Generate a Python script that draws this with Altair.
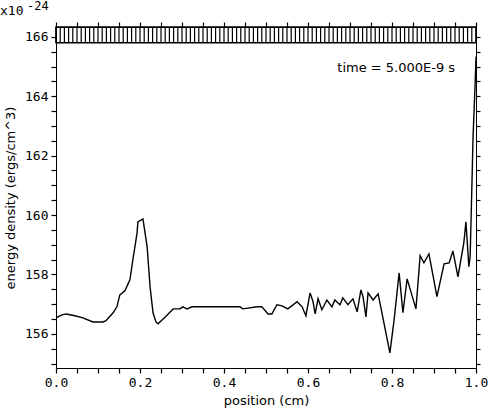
import altair as alt
import pandas as pd

# curve
pos = [0.000, 0.014, 0.024, 0.045, 0.064, 0.088, 0.112, 0.119, 0.136, 0.145,
       0.152, 0.164, 0.176, 0.183, 0.193, 0.195, 0.207, 0.217, 0.224, 0.231,
       0.238, 0.243, 0.260, 0.279, 0.295, 0.302, 0.312, 0.324, 0.380, 0.438,
       0.445, 0.479, 0.490, 0.505, 0.514, 0.526, 0.538, 0.552, 0.574, 0.586,
       0.595, 0.605, 0.612, 0.617, 0.624, 0.633, 0.645, 0.657, 0.664, 0.676,
       0.683, 0.695, 0.707, 0.717, 0.726, 0.731, 0.738, 0.743, 0.755, 0.767,
       0.795, 0.805, 0.817, 0.826, 0.836, 0.857, 0.867, 0.876, 0.888, 0.907,
       0.924, 0.936, 0.945, 0.957, 0.971, 0.976, 0.983, 0.986, 0.990, 0.993,
       0.998, 1.000]
energy = [156.54, 156.64, 156.67, 156.61, 156.54, 156.40, 156.40, 156.44, 156.71, 156.91,
          157.31, 157.45, 157.82, 158.49, 159.40, 159.77, 159.87, 158.93, 157.58, 156.71,
          156.40, 156.34, 156.57, 156.84, 156.84, 156.91, 156.84, 156.91, 156.91, 156.91,
          156.84, 156.91, 156.91, 156.67, 156.67, 156.98, 156.94, 156.84, 157.08, 156.91,
          156.61, 157.38, 157.08, 156.67, 157.18, 156.81, 157.14, 156.91, 157.14, 156.98,
          157.21, 156.98, 157.18, 156.74, 157.48, 157.25, 156.57, 157.38, 157.14, 157.35,
          155.36, 156.47, 158.05, 156.71, 157.85, 156.84, 158.63, 158.39, 158.69, 157.25,
          158.36, 158.39, 158.79, 157.92, 159.06, 159.77, 158.26, 158.59, 160.85, 162.63,
          164.45, 165.33]

# off-scale band along the top edge
band_lo = [165.80]
band_hi = [166.33]
band_x = [0.00, 0.01, 0.02, 0.03, 0.04, 0.05, 0.06, 0.07, 0.08, 0.09,
          0.10, 0.11, 0.12, 0.13, 0.14, 0.15, 0.16, 0.17, 0.18, 0.19,
          0.20, 0.21, 0.22, 0.23, 0.24, 0.25, 0.26, 0.27, 0.28, 0.29,
          0.30, 0.31, 0.32, 0.33, 0.34, 0.35, 0.36, 0.37, 0.38, 0.39,
          0.40, 0.41, 0.42, 0.43, 0.44, 0.45, 0.46, 0.47, 0.48, 0.49,
          0.50, 0.51, 0.52, 0.53, 0.54, 0.55, 0.56, 0.57, 0.58, 0.59,
          0.60, 0.61, 0.62, 0.63, 0.64, 0.65, 0.66, 0.67, 0.68, 0.69,
          0.70, 0.71, 0.72, 0.73, 0.74, 0.75, 0.76, 0.77, 0.78, 0.79,
          0.80, 0.81, 0.82, 0.83, 0.84, 0.85, 0.86, 0.87, 0.88, 0.89,
          0.90, 0.91, 0.92, 0.93, 0.94, 0.95, 0.96, 0.97, 0.98, 0.99, 1.00]

x_ticks = [0.00, 0.05, 0.10, 0.15, 0.20, 0.25, 0.30, 0.35, 0.40, 0.45, 0.50,
           0.55, 0.60, 0.65, 0.70, 0.75, 0.80, 0.85, 0.90, 0.95, 1.00]
y_ticks = [155.0, 155.5, 156.0, 156.5, 157.0, 157.5, 158.0, 158.5, 159.0, 159.5,
           160.0, 160.5, 161.0, 161.5, 162.0, 162.5, 163.0, 163.5, 164.0, 164.5,
           165.0, 165.5, 166.0]

x_dom = [0.0, 1.0]
y_dom = [154.85, 166.33]

curve = pd.DataFrame({"x": pos, "y": energy})
band = pd.DataFrame({"x": band_x, "lo": band_lo * len(band_x), "hi": band_hi * len(band_x)})
box = pd.DataFrame({"x": [x_dom[0]], "x2": [x_dom[1]], "lo": band_lo, "hi": band_hi})

MONO = "DejaVu Sans Mono"
SANS = "DejaVu Sans"

xs = alt.Scale(domain=x_dom, nice=False, zero=False)
ys = alt.Scale(domain=y_dom, nice=False, zero=False)

x_major = "abs(datum.value*5 - round(datum.value*5)) < 0.001"
y_major = "abs(datum.value/2 - round(datum.value/2)) < 0.001"

x_axis = alt.Axis(values=x_ticks, title="position (cm)",
                  labelExpr=f"{x_major} ? format(datum.value, '.1f') : ''",
                  tickSize=5, tickWidth=1.2,
                  labelFont=MONO, labelFontSize=13, labelPadding=3,
                  titleFont=SANS, titleFontSize=13, titleFontWeight="normal", titlePadding=5,
                  grid=False, domainColor="black", tickColor="black", labelColor="black",
                  titleColor="black", labelFlush=False)
y_axis = alt.Axis(values=y_ticks, title="energy density (ergs/cm^3)",
                  labelExpr=f"{y_major} ? format(datum.value, 'd') : ''",
                  tickSize=5, tickWidth=1.2,
                  labelFont=MONO, labelFontSize=13, labelPadding=3,
                  titleFont=SANS, titleFontSize=13, titleFontWeight="normal", titlePadding=7,
                  grid=False, domainColor="black", tickColor="black", labelColor="black",
                  titleColor="black")

line = alt.Chart(curve).mark_line(color="black", strokeWidth=1.4, clip=True).encode(
    x=alt.X("x:Q", scale=xs, axis=x_axis),
    y=alt.Y("y:Q", scale=ys, axis=y_axis),
)

top_axis = alt.Axis(values=x_ticks, orient="top", labels=False, title=None,
                    tickSize=5, tickWidth=1.2,
                    grid=False, domainColor="black", tickColor="black")
right_axis = alt.Axis(values=y_ticks, orient="right", labels=False, title=None,
                      tickSize=4, tickWidth=1.2, grid=False, domainColor="black", tickColor="black")

rules = alt.Chart(band).mark_rule(color="black", strokeWidth=1.2).encode(
    x=alt.X("x:Q", scale=xs, axis=top_axis),
    y=alt.Y("lo:Q", scale=ys, axis=right_axis),
    y2="hi:Q",
)
frame = alt.Chart(box).mark_rect(fill=None, stroke="black", strokeWidth=1.4).encode(
    x=alt.X("x:Q", scale=xs, axis=None),
    x2="x2:Q",
    y=alt.Y("lo:Q", scale=ys, axis=None),
    y2="hi:Q",
)

label = alt.Chart(pd.DataFrame({"x": [0.81], "y": [164.96], "t": ["time = 5.000E-9 s"]})).mark_text(
    font=SANS, fontSize=13, color="black", align="center", baseline="middle"
).encode(x=alt.X("x:Q", scale=xs, axis=None), y=alt.Y("y:Q", scale=ys, axis=None), text="t:N")

exp_base = alt.Chart(pd.DataFrame({"t": ["x10"]})).mark_text(
    font=MONO, fontSize=13, color="black", align="left", baseline="middle"
).encode(x=alt.value(-56), y=alt.value(-16), text="t:N")
exp_sup = alt.Chart(pd.DataFrame({"t": ["-24"]})).mark_text(
    font=MONO, fontSize=12, color="black", align="left", baseline="middle"
).encode(x=alt.value(-29), y=alt.value(-21), text="t:N")

chart = alt.layer(line, rules, frame, label, exp_base, exp_sup).resolve_axis(
    x="independent", y="independent"
).properties(
    width=420, height=341,
    autosize=alt.AutoSizeParams(type="none"),
    padding={"left": 56, "top": 27, "right": 13, "bottom": 51},
).configure_view(stroke="black", strokeWidth=1.2).configure(background="white")

chart.save("out.html", embed_options={"renderer": "svg", "actions": False})
